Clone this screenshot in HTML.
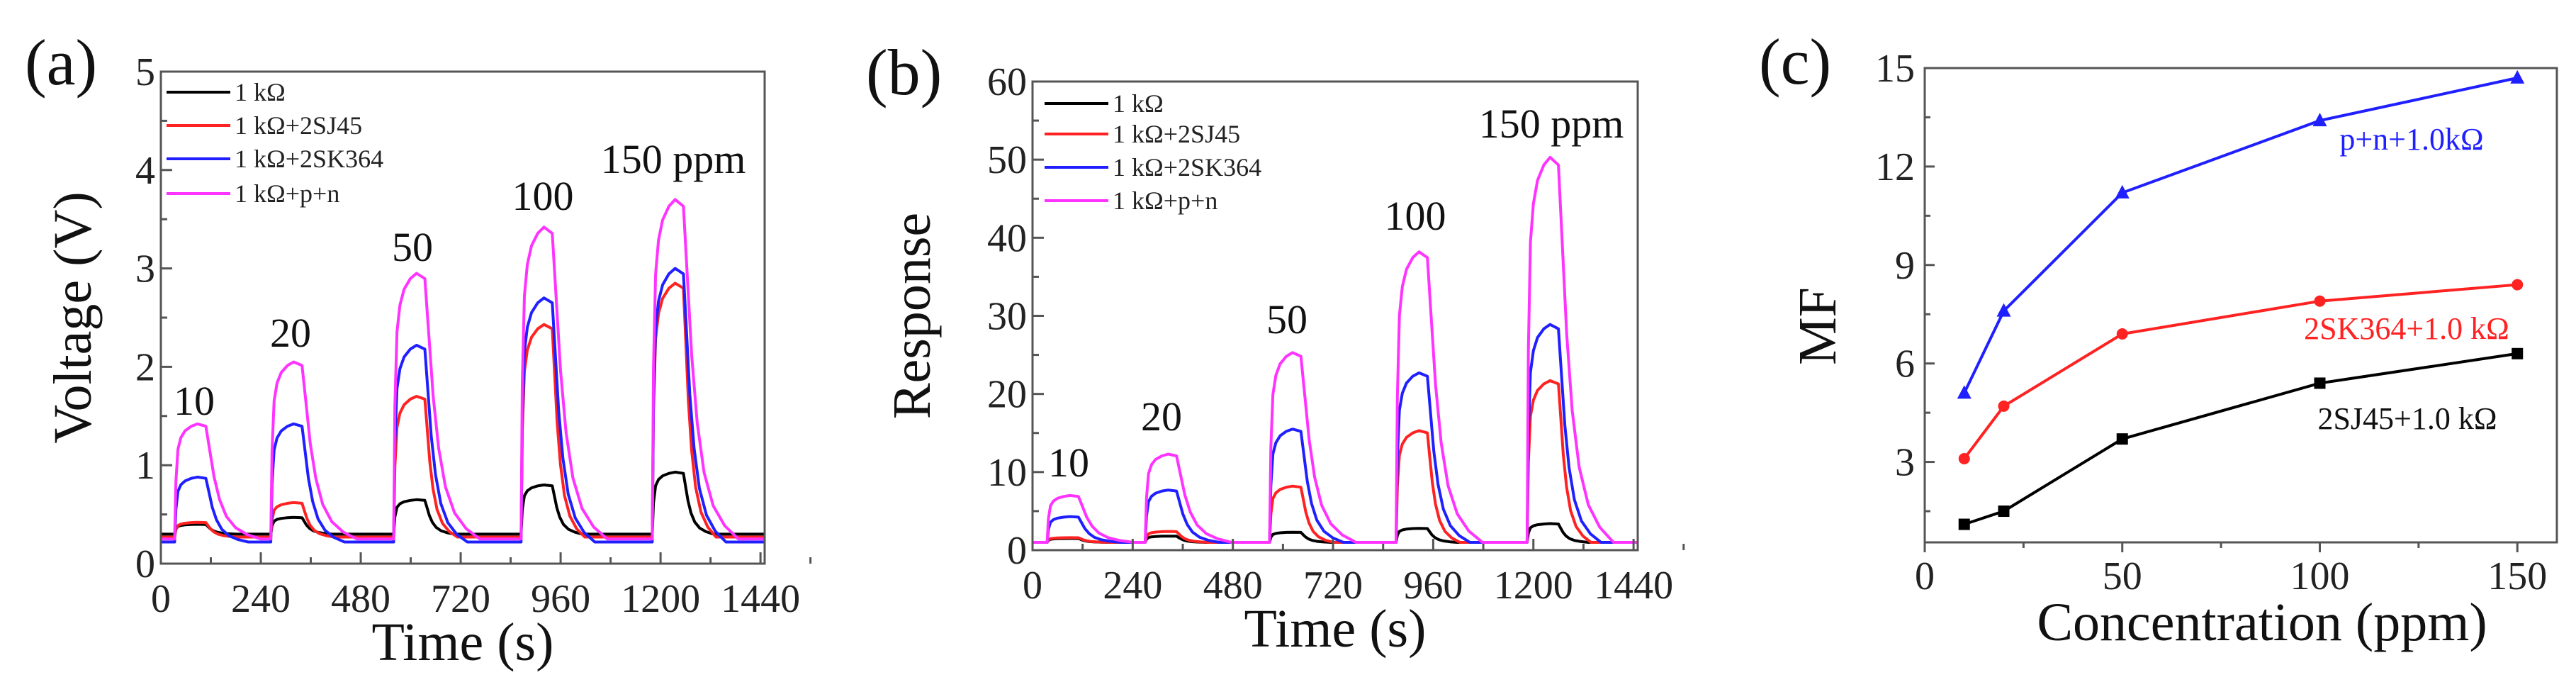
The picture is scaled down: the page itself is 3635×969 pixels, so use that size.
<!DOCTYPE html>
<html><head><meta charset="utf-8"><style>
html,body{margin:0;padding:0;background:#fff;}
svg{display:block;font-family:"Liberation Serif","DejaVu Serif",serif;}
</style></head><body>
<svg id="fig" width="3635" height="969" viewBox="0 0 3635 969" xmlns="http://www.w3.org/2000/svg">
<g id="pa"></g>
<g id="pb"></g>
<g id="pc"></g>
</svg>
<script>
// ---- shared time-series data ----
const seriesNames = ["1 kΩ","1 kΩ+2SJ45","1 kΩ+2SK364","1 kΩ+p+n"];
const seriesColors = ["#000000","#ff2222","#1f1fff","#ff33ff"];
const timeTicks = [0,240,480,720,960,1200,1440];
const onsetA = [33,264,559,865,1180];
const onsetB = [35,270,568,871,1185];
const pulseLabels = ["10","20","50","100","150 ppm"];
// normalized pulse profile (offset s, fraction of peak)
const riseOff = [0,3,8,15,25,40,55,75];
const riseFrac = [0,0.5,0.78,0.88,0.94,0.98,1.0,0.98];
const decayOff = [0,8,18,30,45,65,90,120];
const decayFrac = [1,0.8,0.55,0.35,0.2,0.1,0.04,0];
const decayScale = [0.6,0.65,0.85,1.1];
// panel a (voltage)
const baseA = [0.30,0.27,0.22,0.25];
const peakA_black = [0.40,0.47,0.65,0.80,0.93];
const peakA_red = [0.42,0.62,1.70,2.43,2.85];
const peakA_blue = [0.88,1.42,2.22,2.70,3.00];
const peakA_pink = [1.42,2.05,2.95,3.42,3.70];
const voltTicks = [0,1,2,3,4,5];
// panel b (response)
const baseB = [1,1,1,1];
const peakB_black = [1.5,1.8,2.3,2.8,3.4];
const peakB_red = [1.6,2.4,8.2,15.3,21.7];
const peakB_blue = [4.3,7.7,15.5,22.7,28.9];
const peakB_pink = [7.0,12.3,25.3,38.2,50.3];
const respTicks = [0,10,20,30,40,50,60];
// panel c (MF)
const concs = [10,20,50,100,150];
const mf_2SJ45 = [1.1,1.5,3.7,5.4,6.3];
const mf_2SK364 = [3.1,4.7,6.9,7.9,8.4];
const mf_pn = [5.1,7.6,11.2,13.4,14.7];
const concTicks = [0,50,100,150];
const mfTicks = [3,6,9,12,15];

const NS="http://www.w3.org/2000/svg";
function mk(parent,tag,attrs,text){const e=document.createElementNS(NS,tag);for(const k in attrs)e.setAttribute(k,attrs[k]);if(text!==undefined)e.textContent=text;parent.appendChild(e);return e;}

function timePanel(g,box,ymax,yticks,yminor,onsets,base,peaks,labels,labelPos,legendY,legX,ylabel,ylabelX,panelLbl,panelX){
  const sx=v=>box.l+(v/1450)*(box.r-box.l);
  const sy=v=>box.b-(v/ymax)*(box.b-box.t);
  for(let s=0;s<4;s++){
    const pts=[[0,base[s]]];
    for(let p=0;p<onsets.length;p++){
      const t0=onsets[p], pk=peaks[s][p];
      const limit=p+1<onsets.length?onsets[p+1]-2:1450;
      const off=t0+riseOff[riseOff.length-1];
      for(let i=0;i<riseOff.length;i++) pts.push([t0+riseOff[i],base[s]+(pk-base[s])*riseFrac[i]]);
      const top=base[s]+(pk-base[s])*riseFrac[riseFrac.length-1];
      for(let i=1;i<decayOff.length;i++){
        const t=off+decayOff[i]*decayScale[s];
        if(t<limit) pts.push([t,base[s]+(top-base[s])*decayFrac[i]]);
      }
      pts.push([limit,base[s]]);
    }
    const d=pts.map((q,i)=>(i?'L':'M')+sx(q[0]).toFixed(1)+' '+sy(q[1]).toFixed(1)).join(' ');
    const path=mk(g,'path',{d:d,fill:'none',stroke:seriesColors[s],'stroke-width':4,'stroke-linejoin':'round'});
    
    
  }
  const fr=mk(g,'rect',{x:box.l,y:box.t,width:box.r-box.l,height:box.b-box.t,fill:'none',stroke:'#555',"stroke-width":3});
  
  
  yticks.forEach(v=>{
    mk(g,'line',{x1:box.l,x2:box.l+16,y1:sy(v),y2:sy(v),stroke:'#555','stroke-width':3});
    const t=mk(g,'text',{x:box.l-8,y:sy(v)+19,'text-anchor':'end','font-size':56,fill:'#222'},String(v));
    
    
  });
  yminor.forEach(v=>mk(g,'line',{x1:box.l,x2:box.l+9,y1:sy(v),y2:sy(v),stroke:'#555','stroke-width':3}));
  timeTicks.forEach(v=>{
    mk(g,'line',{x1:sx(v),x2:sx(v),y1:box.b,y2:box.b-16,stroke:'#555','stroke-width':3});
    mk(g,'line',{x1:sx(v+120),x2:sx(v+120),y1:box.b,y2:box.b-9,stroke:'#555','stroke-width':3});
    const t=mk(g,'text',{x:sx(v),y:box.b+68,'text-anchor':'middle','font-size':56,fill:'#222'},String(v));
    
    
  });
  const xt=mk(g,'text',{x:(box.l+box.r)/2,y:box.b+136,'text-anchor':'middle','font-size':76,fill:'#111'},'Time (s)');
  
  
  const yt=mk(g,'text',{x:0,y:0,'text-anchor':'middle','font-size':76,fill:'#111',transform:`translate(${ylabelX},${(box.t+box.b)/2}) rotate(-90)`},ylabel);
  
  
  const pl=mk(g,'text',{x:panelX,y:box.t+18,'font-size':92,fill:'#111'},panelLbl);
  
  
  for(let s=0;s<4;s++){
    const le=mk(g,'g',{});
    
    
    mk(le,'line',{x1:legX,x2:legX+90,y1:legendY[s],y2:legendY[s],stroke:seriesColors[s],'stroke-width':4});
    mk(le,'text',{x:legX+96,y:legendY[s]+12,'font-size':36,fill:'#222'},seriesNames[s]);
  }
  labels.forEach((l,i)=>{
    const t=mk(g,'text',{x:labelPos[i][0],y:labelPos[i][1]+20,'text-anchor':'middle','font-size':58,fill:'#111'},l);
    
    
  });
}

timePanel(document.getElementById('pa'),{l:227,r:1079,t:101,b:795},5,voltTicks,[0.5,1.5,2.5,3.5,4.5],onsetA,baseA,
  [peakA_black,peakA_red,peakA_blue,peakA_pink],pulseLabels,[[274,565],[410,469],[582,348],[766,276],[950,224]],
  [130,177,224,273],235,'Voltage (V)',128,'(a)',35);
timePanel(document.getElementById('pb'),{l:1457,r:2311,t:115,b:776},60,respTicks,[5,15,25,35,45,55],onsetB,baseB,
  [peakB_black,peakB_red,peakB_blue,peakB_pink],pulseLabels,[[1508,652],[1639,587],[1816,450],[1997,304],[2189,174]],
  [146,189,236,283],1474,'Response',1312,'(b)',1222);

(function(){
  const g=document.getElementById('pc');
  const box={l:2716,r:3608,t:96,b:765};
  const xmin=0,xmax=160,ymin=0.55,ymax=15;
  const sx=v=>box.l+(v-xmin)/(xmax-xmin)*(box.r-box.l);
  const sy=v=>box.b-(v-ymin)/(ymax-ymin)*(box.b-box.t);
  const fr=mk(g,'rect',{x:box.l,y:box.t,width:box.r-box.l,height:box.b-box.t,fill:'none',stroke:'#555','stroke-width':3});
  
  
  mfTicks.forEach(v=>{
    mk(g,'line',{x1:box.l,x2:box.l+14,y1:sy(v),y2:sy(v),stroke:'#555','stroke-width':3});
    mk(g,'line',{x1:box.l,x2:box.l+8,y1:sy(v-1.5),y2:sy(v-1.5),stroke:'#555','stroke-width':3});
    const t=mk(g,'text',{x:box.l-14,y:sy(v)+19,'text-anchor':'end','font-size':56,fill:'#222'},String(v));
    
    
  });
  concTicks.forEach(v=>{
    mk(g,'line',{x1:sx(v),x2:sx(v),y1:box.b,y2:box.b+14,stroke:'#555','stroke-width':3});
    if(v<150) mk(g,'line',{x1:sx(v+25),x2:sx(v+25),y1:box.b,y2:box.b+8,stroke:'#555','stroke-width':3});
    const t=mk(g,'text',{x:sx(v),y:box.b+66,'text-anchor':'middle','font-size':56,fill:'#222'},String(v));
    
    
  });
  const series=[[mf_2SJ45,'#000000','square'],[mf_2SK364,'#ff2222','circle'],[mf_pn,'#1f1fff','triangle']];
  series.forEach((sr,si)=>{
    const d=concs.map((c,i)=>(i?'L':'M')+sx(c)+' '+sy(sr[0][i])).join(' ');
    const p=mk(g,'path',{d:d,fill:'none',stroke:sr[1],'stroke-width':4});
    
    
    concs.forEach((c,i)=>{
      const x=sx(c),y=sy(sr[0][i]);let m;
      if(sr[2]==='square') m=mk(g,'rect',{x:x-8,y:y-8,width:16,height:16,fill:sr[1]});
      else if(sr[2]==='circle') m=mk(g,'circle',{cx:x,cy:y,r:8,fill:sr[1]});
      else m=mk(g,'polygon',{points:`${x},${y-11} ${x-10},${y+8} ${x+10},${y+8}`,fill:sr[1]});
      
      
    });
  });
  const lbls=[['p+n+1.0kΩ',3403,196,'#1f1fff'],['2SK364+1.0 kΩ',3396,463,'#ff2222'],['2SJ45+1.0 kΩ',3397,590,'#111']];
  lbls.forEach(l=>{
    const t=mk(g,'text',{x:l[1],y:l[2]+15,'text-anchor':'middle','font-size':44,fill:l[3]},l[0]);
    
    
  });
  const xt=mk(g,'text',{x:(box.l+box.r)/2+30,y:box.b+138,'text-anchor':'middle','font-size':76,fill:'#111'},'Concentration (ppm)');
  
  
  const yt=mk(g,'text',{x:0,y:0,'text-anchor':'middle','font-size':76,fill:'#111',transform:`translate(2590,460) rotate(-90)`},'MF');
  
  
  const pl=mk(g,'text',{x:2482,y:118,'font-size':92,fill:'#111'},'(c)');
  
  
})();
</script>
</body></html>
